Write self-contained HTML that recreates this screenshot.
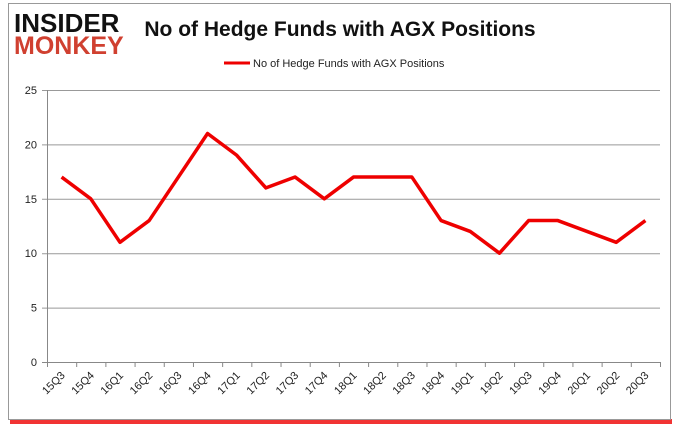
<!DOCTYPE html>
<html><head><meta charset="utf-8"><style>
body{margin:0;background:#fff;font-family:"Liberation Sans",sans-serif}
#wrap{position:relative;width:680px;height:433px;overflow:hidden}
</style></head><body>
<div id="wrap">
<svg id="c" width="680" height="433"></svg>
</div>
<script>
const categories=["15Q3","15Q4","16Q1","16Q2","16Q3","16Q4","17Q1","17Q2","17Q3","17Q4","18Q1","18Q2","18Q3","18Q4","19Q1","19Q2","19Q3","19Q4","20Q1","20Q2","20Q3"];
const values=[17,15,11,13,17,21,19,16,17,15,17,17,17,13,12,10,13,13,12,11,13];
const yTicks=[0,5,10,15,20,25];
const NS="http://www.w3.org/2000/svg";
const svg=document.getElementById('c');
function mk(t,a,p){const e=document.createElementNS(NS,t);for(const k in a)e.setAttribute(k,a[k]);(p||svg).appendChild(e);return e;}
const L=47,R=660,T=90,B=362;
const x=i=>L+(i+0.5)*(R-L)/categories.length;
const y=v=>B-v*(B-T)/25;
let e;
e=mk('rect',{x:10,y:419,width:662,height:5,fill:'#e00',opacity:0.8});

e=mk('rect',{x:8.5,y:3.5,width:662,height:416,fill:'#fff',stroke:'#999'});

e=mk('text',{x:14,y:32,'font-size':26,'font-weight':'bold',fill:'#111','font-family':'Liberation Sans'});e.textContent='INSIDER';

e=mk('text',{x:14,y:54,'font-size':25,'font-weight':'bold',fill:'#d04030'});e.textContent='MONKEY';

e=mk('text',{x:340,y:36,'font-size':21,'font-weight':'bold','text-anchor':'middle',fill:'#111'});e.textContent='No of Hedge Funds with AGX Positions';

e=mk('line',{x1:224,y1:63,x2:250,y2:63,stroke:'#e00','stroke-width':3});

e=mk('text',{x:253,y:67,'font-size':11,fill:'#222'});e.textContent='No of Hedge Funds with AGX Positions';

yTicks.forEach(v=>{
 e=mk('line',{x1:L-5,y1:y(v)+.5,x2:R,y2:y(v)+.5,stroke:v===0?'#888':'#999','stroke-width':1});
 
 e=mk('text',{x:L-10,y:y(v)+4,'font-size':11,'text-anchor':'end',fill:'#222'});e.textContent=v;
 
});
e=mk('line',{x1:L+.5,y1:T,x2:L+.5,y2:B,stroke:'#888'});

categories.forEach((c,i)=>{
 const tx=L+i*(R-L)/categories.length;
 e=mk('line',{x1:tx+.5,y1:B,x2:tx+.5,y2:B+5,stroke:'#888'});
 
 e=mk('text',{x:x(i)+4,y:B+14,'font-size':11,'text-anchor':'end',fill:'#222',transform:`rotate(-45 ${x(i)+4} ${B+14})`});e.textContent=c;
 
});
e=mk('line',{x1:R+.5,y1:B,x2:R+.5,y2:B+5,stroke:'#888'});

e=mk('polyline',{points:values.map((v,i)=>x(i)+','+y(v)).join(' '),fill:'none',stroke:'#e00','stroke-width':3.5,'stroke-linejoin':'round'});

</script>
</body></html>
